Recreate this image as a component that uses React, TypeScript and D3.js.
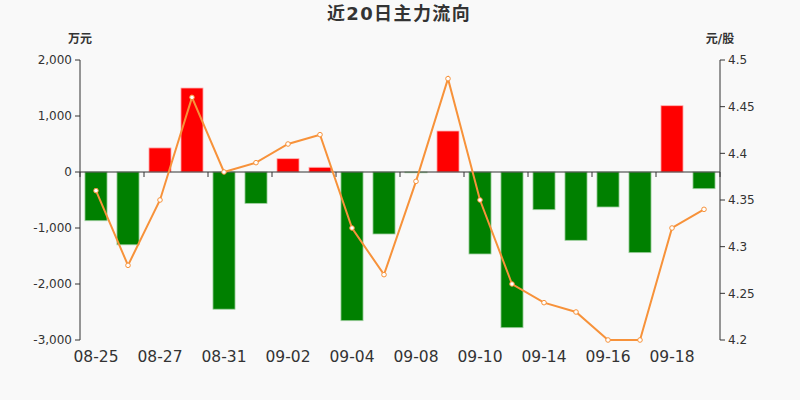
import React from "react";
import * as d3 from "d3";

const dates = [
  "08-25", "08-26", "08-27", "08-28", "08-31", "09-01", "09-02", "09-03", "09-04", "09-07",
  "09-08", "09-09", "09-10", "09-11", "09-14", "09-15", "09-16", "09-17", "09-18", "09-21",
];
const flows = [
  -870, -1300, 430, 1500, -2450, -560, 238, 84, -2655, -1107,
  -8, 732, -1464, -2780, -673, -1220, -625, -1440, 1184, -298,
];
const prices = [
  4.36, 4.28, 4.35, 4.46, 4.38, 4.39, 4.41, 4.42, 4.32, 4.27,
  4.37, 4.48, 4.35, 4.26, 4.24, 4.23, 4.2, 4.2, 4.32, 4.34,
];
const leftTicks = [-3000, -2000, -1000, 0, 1000, 2000];
const rightTicks = [4.2, 4.25, 4.3, 4.35, 4.4, 4.45, 4.5];

const W = 800;
const H = 400;
const left = 80;
const right = 720;
const top = 60;
const bottom = 340;
const FONT = "'DejaVu Sans', 'Noto Sans CJK SC', sans-serif";
const TXT = "#333";
const LINE = "#f7923a";

const fmt = d3.formatLocale({
  decimal: ".",
  thousands: ",",
  grouping: [3],
  currency: ["", ""],
  minus: "-",
}).format(",");

export default function App() {
  const x = d3.scaleBand<string>().domain(dates).range([left, right]).padding(0);
  const bw = x.bandwidth();
  const barW = bw * 0.69;
  const yL = d3.scaleLinear().domain([-3000, 2000]).range([bottom, top]);
  const yR = d3.scaleLinear().domain([4.2, 4.5]).range([bottom, top]);
  const cx = (d: string) => (x(d) as number) + bw / 2;
  const zero = yL(0);

  const line = d3
    .line<number>()
    .x((_, i) => cx(dates[i]))
    .y((v) => yR(v));

  const tickIdx = d3.range(0, dates.length + 1, 2);

  return (
    <div style={{ position: "absolute", left: 0, top: 0 }}>
      <svg width={W} height={H} style={{ display: "block", background: "#f9f9f9" }} fontFamily={FONT}>
        <rect x={0} y={0} width={W} height={H} fill="#f9f9f9" />
        <text x={399} y={20} textAnchor="middle" fontSize={18} fontWeight="bold" fill={TXT} letterSpacing={1.4}>
          近20日主力流向
        </text>
        <text x={80} y={43} textAnchor="middle" fontSize={12} fontWeight={600} fill={TXT}>万元</text>
        <text x={720} y={43} textAnchor="middle" fontSize={12} fontWeight={600} fill={TXT}>元/股</text>

        {/* bars */}
        {flows.map((v, i) => {
          const y0 = Math.min(yL(v), zero);
          const h = Math.abs(yL(v) - zero);
          return (
            <rect
              key={i}
              x={cx(dates[i]) - barW / 2}
              y={y0}
              width={barW}
              height={Math.max(h, 0.8)}
              fill={v >= 0 ? "#ff0000" : "#008000"}
              stroke={v >= 0 ? "#ffb3b3" : "#9fcf9f"}
              strokeWidth={0.8}
            />
          );
        })}

        {/* left axis */}
        <line x1={left} x2={left} y1={top} y2={bottom} stroke={TXT} strokeWidth={1} />
        {leftTicks.map((t) => (
          <g key={t}>
            <line x1={left - 5} x2={left} y1={yL(t)} y2={yL(t)} stroke={TXT} />
            <text x={left - 8} y={yL(t)} dy="0.35em" textAnchor="end" fontSize={12} fill={TXT}>
              {fmt(t)}
            </text>
          </g>
        ))}

        {/* right axis */}
        <line x1={right} x2={right} y1={top} y2={bottom} stroke={TXT} strokeWidth={1} />
        {rightTicks.map((t) => (
          <g key={t}>
            <line x1={right} x2={right + 5} y1={yR(t)} y2={yR(t)} stroke={TXT} />
            <text x={right + 8} y={yR(t)} dy="0.35em" textAnchor="start" fontSize={12} fill={TXT}>
              {String(+t.toFixed(2))}
            </text>
          </g>
        ))}

        {/* x axis at zero */}
        <line x1={left} x2={right} y1={zero} y2={zero} stroke={TXT} strokeWidth={1} />
        {tickIdx.map((i) => {
          const xx = i < dates.length ? (x(dates[i]) as number) : right;
          return <line key={i} x1={xx} x2={xx} y1={zero} y2={zero + 5} stroke={TXT} />;
        })}
        {dates.map((d, i) =>
          i % 2 === 0 ? (
            <text key={d} x={cx(d)} y={362} textAnchor="middle" fontSize={15.5} fill={TXT}>
              {d}
            </text>
          ) : null
        )}

        {/* price line */}
        <path d={line(prices) || ""} fill="none" stroke={LINE} strokeWidth={2} />
        {prices.map((p, i) => (
          <circle key={i} cx={cx(dates[i])} cy={yR(p)} r={2.3} fill="#fff" stroke={LINE} strokeWidth={1} />
        ))}
      </svg>
    </div>
  );
}
